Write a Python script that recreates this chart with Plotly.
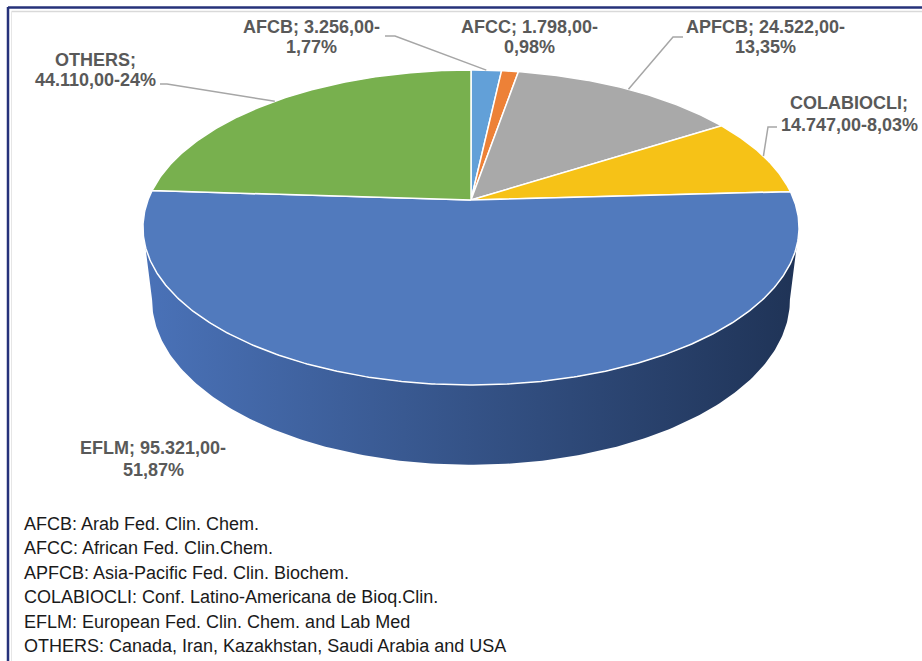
import numpy as np
import plotly.graph_objects as go

# ---------------- data ----------------
categories = ["AFCB", "AFCC", "APFCB", "COLABIOCLI", "EFLM", "OTHERS"]
values = [3256, 1798, 24522, 14747, 95321, 44110]
value_labels = ["3.256,00", "1.798,00", "24.522,00", "14.747,00", "95.321,00", "44.110,00"]
pct_labels = ["1,77%", "0,98%", "13,35%", "8,03%", "51,87%", "24%"]
legend_lines = [
    "AFCB: Arab Fed. Clin. Chem.",
    "AFCC: African Fed. Clin.Chem.",
    "APFCB: Asia-Pacific Fed. Clin. Biochem.",
    "COLABIOCLI: Conf. Latino-Americana de Bioq.Clin.",
    "EFLM: European Fed. Clin. Chem. and Lab Med",
    "OTHERS: Canada, Iran, Kazakhstan, Saudi Arabia and USA",
]

# ---------------- style / layout ----------------
top_colors = ["#62A0D8", "#ED8137", "#A9A9A9", "#F6C217", "#517ABD", "#78B04E"]
side_colors = [("#4F86BC", "#2E5A86"), ("#D06A25", "#8A4414"), ("#8C8C8C", "#5A5A5A"),
               ("#D9A60F", "#8F6D08"), ("#4A72B8", "#1F3356"), ("#5F9A3A", "#3B6424")]
break_after_name = [False, False, False, True, False, True]
label_pos = [(311, 27), (529, 27), (765, 27), (849, 103), (153, 448), (95, 60)]
label_pitch = [20, 20, 20, 22, 22, 20]
leader = {0: [(395, 36), (385, 36)], 2: [(673, 37), (683, 37)],
          3: [(768, 127), (777, 127)], 5: [(167, 84), (160, 84)]}

W, H = 922, 661
CX, CY, R, A, K = 471.0, 200.0, 323.0, 152.7, 0.1746
RB, CYB, AB = 314.0, 271.0, 160.0
LABEL_COLOR = "#595959"
FONT = "Liberation Sans, Arial, sans-serif"


def top_pt(th):
    t = np.radians(th)
    X, Z = np.sin(t), np.cos(t)
    d = 1 + K * Z
    return CX + R * X / d, CY - A * Z / d


def bot_pt(th):
    t = np.radians(th)
    X, Z = np.sin(t), np.cos(t)
    d = 1 + K * Z
    return CX + RB * X / d, CYB - AB * Z / d


total = float(sum(values))
cum = np.concatenate([[0], np.cumsum(values)]) / total * 360.0
theta_a = np.degrees(np.arccos(-K))
theta_b = 360.0 - theta_a

fig = go.Figure()

# sides (visible front part)
for i in range(len(values)):
    lo, hi = max(cum[i], theta_a), min(cum[i + 1], theta_b)
    if lo >= hi:
        continue
    th = np.linspace(lo, hi, 200)
    tx, ty = top_pt(th)
    bx, by = bot_pt(th[::-1])
    fig.add_trace(go.Scatter(
        x=np.concatenate([tx, bx, tx[:1]]), y=np.concatenate([ty, by, ty[:1]]),
        mode="lines", fill="toself", line=dict(width=0, color=side_colors[i][1]),
        fillgradient=dict(type="horizontal",
                          colorscale=[[0, side_colors[i][0]], [1, side_colors[i][1]]]),
        hoverinfo="skip", showlegend=False))

# top faces
for i in range(len(values)):
    th = np.linspace(cum[i], cum[i + 1], max(int((cum[i + 1] - cum[i]) * 2), 8))
    rx, ry = top_pt(th)
    x = np.concatenate([[CX], rx, [CX]])
    y = np.concatenate([[CY], ry, [CY]])
    fig.add_trace(go.Scatter(
        x=x, y=y, mode="lines", fill="toself", fillcolor=top_colors[i],
        line=dict(color="white", width=1.5), name=categories[i],
        hoverinfo="name", showlegend=False))

# leader lines
for i, pts in leader.items():
    mid = (cum[i] + cum[i + 1]) / 2
    px, py = top_pt(mid)
    xs = [px] + [p[0] for p in pts]
    ys = [py] + [p[1] for p in pts]
    fig.add_trace(go.Scatter(x=xs, y=ys, mode="lines",
                             line=dict(color="#A6A6A6", width=1.5),
                             hoverinfo="skip", showlegend=False))

annotations = []
for i, c in enumerate(categories):
    if break_after_name[i]:
        lines = [f"{c};", f"{value_labels[i]}-{pct_labels[i]}"]
    else:
        lines = [f"{c}; {value_labels[i]}-", pct_labels[i]]
    lx, ly = label_pos[i]
    for j, t in enumerate(lines):
        annotations.append(dict(x=lx, y=ly + j * label_pitch[i], xref="x", yref="y",
                                text=f"<b>{t}</b>", showarrow=False,
                                xanchor="center", yanchor="middle",
                                font=dict(family=FONT, size=18, color=LABEL_COLOR)))

for j, t in enumerate(legend_lines):
    annotations.append(dict(x=22, y=524 + j * 24.4, xref="x", yref="y", text=t,
                            showarrow=False, xanchor="left", yanchor="middle",
                            font=dict(family=FONT, size=18, color="#1A1A1A")))

shapes = [
    dict(type="line", xref="x", yref="y", x0=8, y0=7.5, x1=W, y1=7.5,
         line=dict(color="#26327A", width=2.5)),
    dict(type="line", xref="x", yref="y", x0=8, y0=7, x1=8, y1=H,
         line=dict(color="#26327A", width=2.5)),
    dict(type="line", xref="x", yref="y", x0=11.5, y0=11.5, x1=W, y1=11.5,
         line=dict(color="#D9D9D9", width=1.5)),
    dict(type="line", xref="x", yref="y", x0=11.5, y0=11.5, x1=11.5, y1=H,
         line=dict(color="#E6E6E6", width=1)),
]

fig.update_layout(
    width=W, height=H, margin=dict(l=0, r=0, t=0, b=0),
    paper_bgcolor="white", plot_bgcolor="white",
    xaxis=dict(range=[0, W], visible=False, fixedrange=True),
    yaxis=dict(range=[H, 0], visible=False, fixedrange=True),
    annotations=annotations, shapes=shapes, showlegend=False,
)

fig.write_html("out.html", config=dict(displayModeBar=False),
               post_script="document.body.style.margin='0';document.body.style.overflow='hidden';")
